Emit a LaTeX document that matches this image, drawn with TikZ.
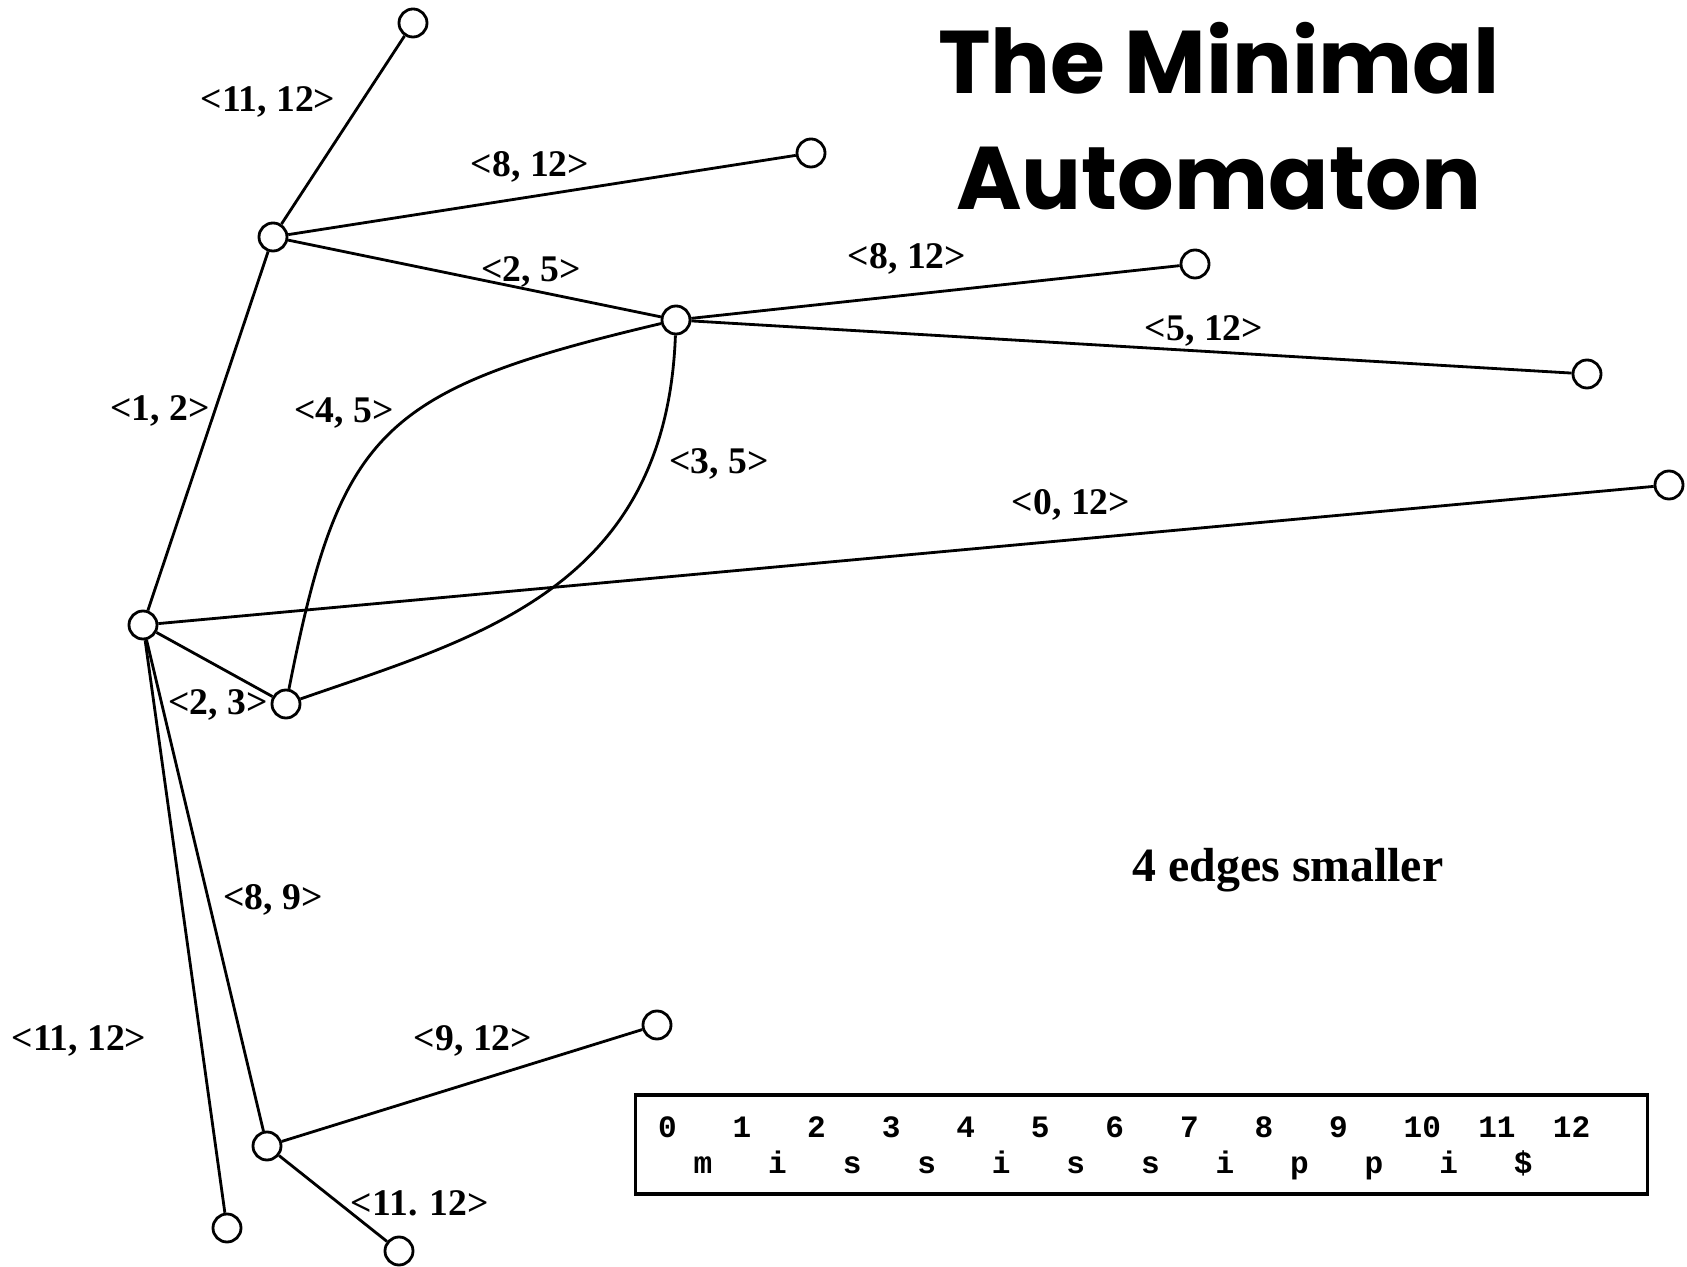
\documentclass[tikz,border=0pt]{standalone}
\usepackage{fontspec}
\setmainfont{Liberation Serif}
\newfontfamily\tapefont{Liberation Mono}
\newfontfamily\titlefont{Poppins}
\usetikzlibrary{positioning}
\tikzset{
	state/.style={circle, draw, fill=white, line width=0.8pt, minimum size=0.28cm, inner sep=0pt},
	lbl/.style={font=\fontsize{10.7}{12}\selectfont\bfseries, inner sep=0pt},
	tape/.style={font=\tapefont\fontsize{8.85}{10}\selectfont\bfseries, inner sep=0pt}
}

\begin{document}
\begin{tikzpicture}[x=0.01cm, y=-0.01cm, line width=0.8pt]
		%%%%% START %%%%%
		\useasboundingbox (0, 0) rectangle (1687, 1267);
		
		% states
		\node[state] (root) at (143, 625) {};
		\node[state] (n1) at (273, 237) {};
		\node[state] (n2) at (676, 320) {};
		\node[state] (n3) at (286, 704) {};
		\node[state] (n4) at (267, 1146) {};
		
		\node[state] (la) at (413, 23) {};
		\node[state] (lb) at (811, 153) {};
		\node[state] (lc) at (1195, 264) {};
		\node[state] (ld) at (1587, 374) {};
		\node[state] (le) at (1669, 485) {};
		\node[state] (lf) at (657, 1025) {};
		\node[state] (lg) at (399, 1251) {};
		\node[state] (lh) at (227, 1228) {};
		
		% edges
		\draw (root) -- (n1);
		\draw (n1) -- (la);
		\draw (n1) -- (lb);
		\draw (n1) -- (n2);
		\draw (n2) -- (lc);
		\draw (n2) -- (ld);
		\draw (root) -- (le);
		\draw (root) -- (n3);
		\draw (n3) .. controls (340, 430) and (380, 390) .. (n2);
		\draw (n2) .. controls (666, 590) and (475, 638) .. (n3);
		\draw (root) -- (n4);
		\draw (root) -- (lh);
		\draw (n4) -- (lf);
		\draw (n4) -- (lg);
		
		% edge labels
		\node[lbl] (t1) at (268, 102) {<11, 12>};
		\node[lbl] (t2) at (530, 167) {<8, 12>};
		\node[lbl] (t3) at (531, 272) {<2, 5>};
		\node[lbl] (t4) at (907, 259) {<8, 12>};
		\node[lbl] (t5) at (1204, 331) {<5, 12>};
		\node[lbl] (t6) at (160, 411) {<1, 2>};
		\node[lbl] (t7) at (344, 413) {<4, 5>};
		\node[lbl] (t8) at (719, 464) {<3, 5>};
		\node[lbl] (t9) at (1071, 505) {<0, 12>};
		\node[lbl] (t10) at (218, 705) {<2, 3>};
		\node[lbl] (t11) at (273, 900) {<8, 9>};
		\node[lbl] (t12) at (79, 1041) {<11, 12>};
		\node[lbl] (t13) at (473, 1041) {<9, 12>};
		\node[lbl] (t14) at (420, 1203) {<11. 12>};
		
		\node[font=\fontsize{13.6}{16}\selectfont\bfseries, inner sep=0pt] (note) at (1288, 870) {4 edges smaller};
		
		% title
		\node[font=\titlefont\fontsize{25.3}{33}\selectfont\bfseries, align=center, inner sep=0pt] (title) at (1219, 116) {The Minimal\\Automaton};
		
		% the string
		\node[draw, line width=1pt, minimum width=10.11cm, minimum height=0.99cm, inner sep=0pt] (tapebox) at (1141.5, 1144.5) {};
		\foreach \d in {0,...,12}
			\node[tape, anchor=base west] (d\d) at ({656.7+74.56*\d}, 1137) {\d};
		\foreach \c [count=\j from 0] in {m,i,s,s,i,s,s,i,p,p,i,\$}
			\node[tape, anchor=base] (c\j) at ({703+74.56*\j}, 1173) {\c};
		
		%%%%% END %%%%%
	\end{tikzpicture}
\end{document}
